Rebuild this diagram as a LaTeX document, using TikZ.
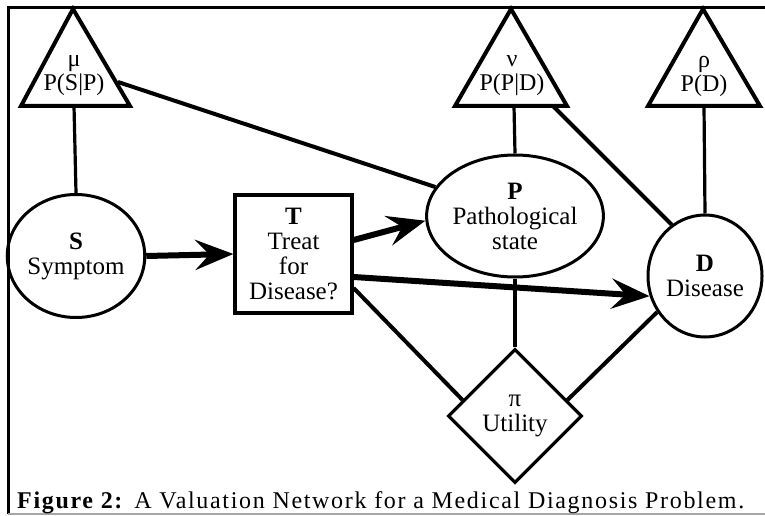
\documentclass[tikz,border=0pt]{standalone}
\usepackage{fontspec}
\setmainfont{Liberation Serif}
\usetikzlibrary{shapes.geometric,arrows.meta}
\begin{document}
\begin{tikzpicture}[x=1pt,y=-1pt,
  txt/.style={font=\fontsize{25}{25}\selectfont,align=center,inner sep=0pt},
  tritxt/.style={font=\fontsize{24}{24}\selectfont,align=center,inner sep=0pt},
  chance/.style={draw,ellipse,line width=3pt,inner sep=0pt,txt},
  decision/.style={draw,rectangle,line width=3.2pt,inner sep=0pt,txt},
  util/.style={draw,diamond,aspect=1,line width=3.2pt,inner sep=0pt,minimum size=134pt},
  tri/.style={draw,line width=4pt,line join=miter},
  thin/.style={line width=3.2pt},
  thick/.style={line width=6pt,-{Stealth[length=38pt,width=30pt,inset=14pt]}},
  plain/.style={line width=4pt}]
\useasboundingbox (0,0) rectangle (765,516);
% frame
\draw[line width=3pt] (765,8) -- (8,8) -- (8,514);
\draw[line width=1.5pt,gray!70] (8,514) -- (765,514);
% valuation triangles
\draw[tri] (73,9) -- (21,106) -- (130,106) -- cycle;
\draw[tri] (511,9) -- (455,106) -- (567,106) -- cycle;
\draw[tri] (703,9) -- (648,106) -- (760,106) -- cycle;
\coordinate (muB) at (74,106);
\coordinate (muR) at (118,82);
\coordinate (nuB) at (514,106);
\coordinate (nuR) at (553,106);
\coordinate (rhoB) at (704,106);
\node[tritxt] (mu) at (74,76) {μ\\P(S|P)};
\node[tritxt] (nu) at (512,76) {ν\\P(P|D)};
\node[tritxt] (rho) at (704,76) {ρ\\P(D)};
% variable nodes
\node[chance,minimum width=122pt,minimum height=123pt] (S) at (76,256) {\textbf{S}\\Symptom};
\node[decision,minimum width=117pt,minimum height=118pt] (T) at (293.5,254) {\textbf{T}\\Treat\\for\\Disease?};
\node[chance,minimum width=136pt,minimum height=122pt] (P) at (515,216) {\textbf{P}\\Pathological\\state};
\node[chance,minimum width=114pt,minimum height=122pt] (D) at (705,276) {\textbf{D}\\Disease};
\node[util] (pi) at (515,416) {};
\node[txt] (pit) at (515,416) {π\\Utility};
% connectors
\draw[thin] (muB) -- (S.north);
\draw[plain] (muR) -- (P.160);
\draw[thin] (nuB) -- (P.north);
\draw[plain] (nuR) -- (D.123);
\draw[thin] (rhoB) -- (D.north);
\draw[thick] (S.east) -- (T.west);
\draw[thick] ([yshift=14pt]T.east) -- (P.183);
\draw[thick] ([yshift=-23pt]T.east) -- (D.200);
\draw[plain] ([yshift=-34pt]T.east) -- (pi.163);
\draw[thin] (P.south) -- (pi.north);
\draw[plain] (D.217) -- (pi.17);
% caption
\node[anchor=base west,inner sep=0pt,font=\fontsize{24}{25}\selectfont\addfontfeature{LetterSpace=7}] (cap) at (17,508) {\textbf{Figure 2:} A Valuation Network for a Medical Diagnosis Problem.};
\end{tikzpicture}
\end{document}
